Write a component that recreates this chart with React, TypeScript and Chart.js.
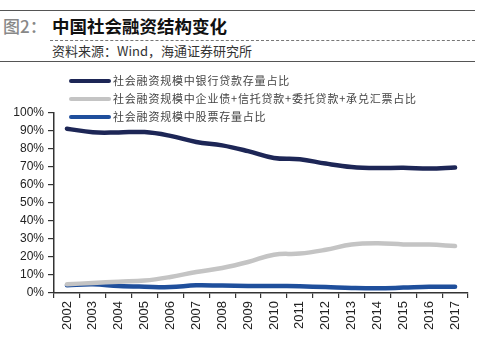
import React, { useEffect, useRef } from "react";
import { Chart, registerables } from "chart.js";

Chart.register(...registerables);

const years = ["2002","2003","2004","2005","2006","2007","2008","2009","2010","2011","2012","2013","2014","2015","2016","2017"];
const bankLoanShare = [91.3, 89.3, 89.2, 89.4, 87.3, 83.9, 82.0, 78.8, 75.0, 74.3, 71.9, 70.0, 69.4, 69.6, 69.1, 69.7];
const otherFinancingShare = [4.8, 5.6, 6.3, 6.9, 8.9, 11.7, 13.9, 17.2, 21.3, 21.9, 24.0, 26.9, 27.6, 27.0, 26.9, 26.1];
const equityShare = [4.3, 4.8, 3.9, 3.5, 3.3, 4.3, 4.1, 3.9, 3.9, 3.7, 3.3, 2.8, 2.6, 3.0, 3.5, 3.5];
const seriesNames = [
  "社会融资规模中银行贷款存量占比",
  "社会融资规模中企业债+信托贷款+委托贷款+承兑汇票占比",
  "社会融资规模中股票存量占比",
];
const yTicks = [0, 10, 20, 30, 40, 50, 60, 70, 80, 90, 100];

const colors = ["#1d2656", "#c4c4c4", "#1f4f9c"];

const legendPlugin = {
  id: "customLegend",
  afterDraw(chart: any) {
    const ctx = chart.ctx;
    ctx.save();
    const rows = [81, 99, 117];
    chart.data.datasets.forEach((ds: any, i: number) => {
      const y = rows[i];
      ctx.strokeStyle = ds.borderColor;
      ctx.lineWidth = 4;
      ctx.lineCap = "round";
      ctx.beginPath();
      ctx.moveTo(71, y);
      ctx.lineTo(109, y);
      ctx.stroke();
      ctx.fillStyle = "#444";
      ctx.font = '11px "Noto Sans CJK SC"';
      ctx.textBaseline = "middle";
      (ctx as any).letterSpacing = "0.8px";
      ctx.fillText(ds.label, 113, y);
    });
    ctx.restore();
  },
};

export default function App() {
  const ref = useRef<HTMLCanvasElement>(null);
  useEffect(() => {
    if (!ref.current) return;
    const chart = new Chart(ref.current, {
      type: "line",
      data: {
        labels: years,
        datasets: [
          { label: seriesNames[0], data: bankLoanShare, borderColor: colors[0], backgroundColor: colors[0] },
          { label: seriesNames[1], data: otherFinancingShare, borderColor: colors[1], backgroundColor: colors[1] },
          { label: seriesNames[2], data: equityShare, borderColor: colors[2], backgroundColor: colors[2] },
        ].map((d) => ({ ...d, borderWidth: 4.5, pointRadius: 0, tension: 0.4, fill: false, borderCapStyle: "round" as const })),
      },
      options: {
        animation: false,
        responsive: false,
        layout: { padding: { left: 0, right: 32, top: 113, bottom: 0 } },
        plugins: { legend: { display: false }, tooltip: { enabled: false } },
        scales: {
          x: {
            offset: true,
            grid: { display: true, drawOnChartArea: false, drawTicks: true, offset: true, tickLength: 5, color: "#333", lineWidth: 1.2 },
            border: { display: true, color: "#333", width: 1.5 },
            ticks: {
              maxRotation: 90,
              minRotation: 90,
              autoSkip: false,
              color: "#222",
              padding: 3,
              font: { family: "Liberation Sans, Arial", size: 13 },
            },
            afterFit: (s: any) => { s.height = 61; },
          },
          y: {
            min: 0,
            max: 100,
            afterBuildTicks: (s: any) => { s.ticks = yTicks.map((v) => ({ value: v })); },
            grid: { display: true, drawOnChartArea: false, drawTicks: true, tickLength: 6, color: "#333", lineWidth: 1.2 },
            border: { display: true, color: "#333", width: 1.5 },
            ticks: {
              color: "#222",
              padding: 4,
              font: { family: "Liberation Sans, Arial", size: 12 },
              callback: (v: any) => v + "%",
            },
            afterFit: (s: any) => { s.width = 54; },
          },
        },
      },
      plugins: [legendPlugin],
    });
    return () => chart.destroy();
  }, []);

  return (
    <div style={{ position: "absolute", left: 0, top: 0, width: 500, height: 354, background: "#fff", overflow: "hidden" }}>
      <div style={{ position: "absolute", left: 0, top: 10, width: 475, height: 0, borderTop: "1.5px solid #555" }} />
      <div style={{ position: "absolute", left: 3, top: 15, fontFamily: '"Noto Sans CJK SC", sans-serif', fontSize: 17, lineHeight: "22px", whiteSpace: "nowrap", color: "#888", fontWeight: 500 }}>
        图2：
      </div>
      <div style={{ position: "absolute", left: 52, top: 15, fontFamily: '"Noto Sans CJK SC", sans-serif', fontSize: 17.5, lineHeight: "22px", whiteSpace: "nowrap", color: "#111", fontWeight: 700 }}>
        中国社会融资结构变化
      </div>
      <div style={{ position: "absolute", left: 50, top: 40, width: 425, height: 0, borderTop: "1px dashed #777" }} />
      <div style={{ position: "absolute", left: 52, top: 43, fontFamily: '"Noto Sans CJK SC", sans-serif', fontSize: 13, lineHeight: "16px", color: "#333", whiteSpace: "nowrap" }}>
        资料来源：Wind，海通证券研究所
      </div>
      <div style={{ position: "absolute", left: 0, top: 61, width: 475, height: 0, borderTop: "1.5px solid #555" }} />
      <canvas ref={ref} width={500} height={354} style={{ position: "absolute", left: 0, top: 0 }} />
    </div>
  );
}
